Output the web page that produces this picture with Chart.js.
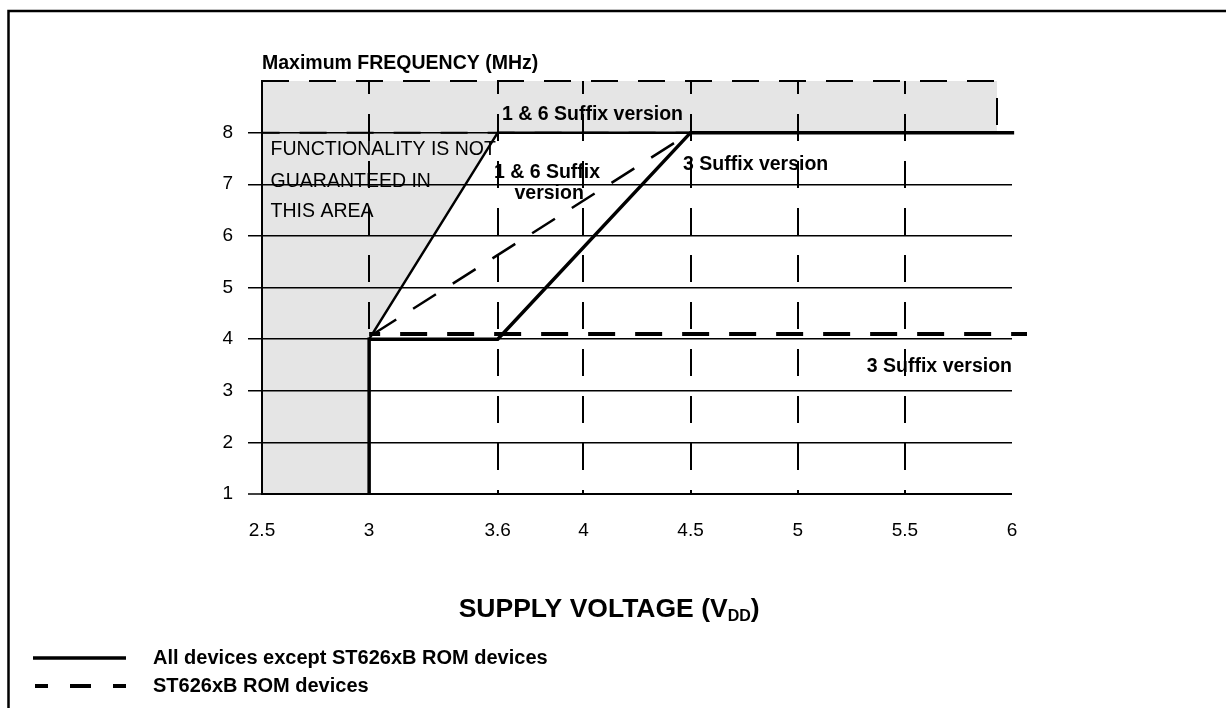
<!DOCTYPE html>
<html>
<head>
<meta charset="utf-8">
<script src="https://cdn.jsdelivr.net/npm/chart.js@4.4.1/dist/chart.umd.min.js"></script>
<style>
  body { margin: 0; background: #fff; }
  #grafico { display: block; }
</style>
</head>
<body>
<canvas id="grafico" width="1226" height="708"></canvas>
<script>
// Axis ticks
const voltageTicks = [2.5, 3, 3.6, 4, 4.5, 5, 5.5, 6];
const freqTicks = [1, 2, 3, 4, 5, 6, 7, 8];

// Area where functionality is not guaranteed (grey)
const topBandVolt = [2.5, 5.93];
const topBandFreq = [9, 9];
const leftAreaVolt = [2.5, 3, 3, 3.6];
const leftAreaFreq = [1, 1, 4, 8];
const bandEdgeVolt = [2.5, 5.93, 5.93, 2.5];
const bandEdgeFreq = [9, 9, 8, 8];

// All devices except ST626xB ROM devices (solid)
const suffix3Volt = [3, 3, 3.6, 4.5, 6.01];
const suffix3Freq = [1, 4, 4, 8, 8];
const suffix16Volt = [3, 3.6, 4.5];
const suffix16Freq = [4, 8, 8];

// ST626xB ROM devices (dashed)
const romSlantVolt = [3.02, 4.5];
const romSlantFreq = [4.1, 8];
const romFlatVolt = [3, 6.07];
const romFlatFreq = [4.1, 4.1];

// Texts inside the plot
const notes = [
  { text: 'Maximum FREQUENCY (MHz)', x: 2.5, y: 9.23, bold: true, align: 'left' },
  { text: '1 & 6 Suffix version', x: 3.62, y: 8.25, bold: true, align: 'left' },
  { text: 'FUNCTIONALITY IS NOT', x: 2.54, y: 7.57, bold: false, align: 'left' },
  { text: 'GUARANTEED IN', x: 2.54, y: 6.94, bold: false, align: 'left' },
  { text: 'THIS AREA', x: 2.54, y: 6.375, bold: false, align: 'left' },
  { text: '1 & 6 Suffix', x: 3.83, y: 7.125, bold: true, align: 'center' },
  { text: 'version', x: 3.84, y: 6.71, bold: true, align: 'center' },
  { text: '3 Suffix version', x: 4.465, y: 7.285, bold: true, align: 'left' },
  { text: '3 Suffix version', x: 6.0, y: 3.36, bold: true, align: 'right' }
];

const legendItems = ['All devices except ST626xB ROM devices', 'ST626xB ROM devices'];

const FONT = '"Liberation Sans", Arial, Helvetica, sans-serif';
const GREY = '#e5e5e5';

function pts(xs, ys) {
  return xs.map((x, i) => ({ x: x, y: ys[i] }));
}

function lineSet(xs, ys, width, dash, offset) {
  return {
    data: pts(xs, ys),
    borderColor: '#000',
    borderWidth: width,
    borderDash: dash || [],
    borderDashOffset: offset || 0,
    borderCapStyle: 'butt',
    borderJoinStyle: 'miter',
    pointRadius: 0,
    tension: 0,
    fill: false,
    clip: false
  };
}

function areaSet(xs, ys) {
  return {
    data: pts(xs, ys),
    backgroundColor: GREY,
    borderWidth: 0,
    pointRadius: 0,
    tension: 0,
    fill: { value: 8 }
  };
}

// Texts, axis title, legend and frame
const extras = {
  id: 'extras',
  afterDraw(chart) {
    const ctx = chart.ctx;
    const sx = chart.scales.x;
    const sy = chart.scales.y;
    const area = chart.chartArea;
    ctx.save();
    ctx.fillStyle = '#000';
    ctx.textBaseline = 'alphabetic';

    notes.forEach(function(n) {
      ctx.font = (n.bold ? 'bold ' : '') + '19.5px ' + FONT;
      ctx.textAlign = n.align;
      ctx.fillText(n.text, sx.getPixelForValue(n.x), sy.getPixelForValue(n.y));
    });

    // x axis title with subscript
    const main = 'SUPPLY VOLTAGE (V';
    const sub = 'DD';
    ctx.font = 'bold 26.5px ' + FONT;
    const w1 = ctx.measureText(main).width;
    const w3 = ctx.measureText(')').width;
    ctx.font = 'bold 16px ' + FONT;
    const w2 = ctx.measureText(sub).width;
    let tx = sx.getPixelForValue(4.12) - (w1 + w2 + w3) / 2;
    const ty = area.bottom + 123;
    ctx.textAlign = 'left';
    ctx.font = 'bold 26.5px ' + FONT;
    ctx.fillText(main, tx, ty);
    ctx.font = 'bold 16px ' + FONT;
    ctx.fillText(sub, tx + w1, ty + 4);
    ctx.font = 'bold 26.5px ' + FONT;
    ctx.fillText(')', tx + w1 + w2, ty);

    // legend
    ctx.strokeStyle = '#000';
    ctx.lineWidth = 3.5;
    ctx.beginPath();
    ctx.moveTo(33, 658);
    ctx.lineTo(126, 658);
    ctx.stroke();
    ctx.lineWidth = 4;
    ctx.setLineDash([21, 22]);
    ctx.lineDashOffset = 8;
    ctx.beginPath();
    ctx.moveTo(35, 686);
    ctx.lineTo(126, 686);
    ctx.stroke();
    ctx.setLineDash([]);
    ctx.font = 'bold 20px ' + FONT;
    ctx.textBaseline = 'middle';
    ctx.fillText(legendItems[0], 153, 658);
    ctx.fillText(legendItems[1], 153, 686);

    // frame
    ctx.lineWidth = 2.5;
    ctx.beginPath();
    ctx.moveTo(8.5, 708);
    ctx.lineTo(8.5, 11);
    ctx.lineTo(1226, 11);
    ctx.stroke();
    ctx.restore();
  }
};

var ctxGrafico = document.getElementById('grafico').getContext('2d');
var grafico = new Chart(ctxGrafico, {
  type: 'line',
  data: {
    datasets: [
      areaSet(topBandVolt, topBandFreq),
      areaSet(leftAreaVolt, leftAreaFreq),
      lineSet(bandEdgeVolt, bandEdgeFreq, 2, [27, 20], 0),
      lineSet(romSlantVolt, romSlantFreq, 2.5, [27, 20], 0),
      lineSet(romFlatVolt, romFlatFreq, 4, [27, 20], 16),
      lineSet(suffix16Volt, suffix16Freq, 2.5),
      lineSet(suffix3Volt, suffix3Freq, 3.5)
    ]
  },
  options: {
    responsive: false,
    animation: false,
    layout: { padding: { left: 9, right: 214, top: 81, bottom: 0 } },
    plugins: {
      legend: { display: false },
      tooltip: { enabled: false },
      filler: { drawTime: 'beforeDraw' }
    },
    scales: {
      x: {
        type: 'linear',
        min: 2.5,
        max: 6,
        afterBuildTicks: function(scale) {
          scale.ticks = voltageTicks.map(v => ({ value: v }));
        },
        afterFit: function(scale) { scale.height = 214; },
        grid: {
          color: c => (c.tick && (c.tick.value === 2.5 || c.tick.value === 6)) ? 'rgba(0,0,0,0)' : '#000',
          lineWidth: 2,
          drawTicks: false
        },
        border: { display: false, dash: [27, 20], dashOffset: 14 },
        ticks: {
          padding: 25,
          color: '#000',
          font: { family: FONT, size: 19 },
          callback: v => String(v)
        }
      },
      y: {
        type: 'linear',
        min: 1,
        max: 9,
        afterBuildTicks: function(scale) {
          scale.ticks = freqTicks.map(v => ({ value: v }));
        },
        afterFit: function(scale) { scale.width = 253; },
        grid: {
          color: '#000',
          lineWidth: c => (c.tick && c.tick.value === 1) ? 2 : 1.5,
          tickLength: 14,
          tickColor: '#000',
          tickWidth: 1.5
        },
        border: { display: true, color: '#000', width: 2 },
        ticks: {
          padding: 15,
          color: '#000',
          font: { family: FONT, size: 19 },
          callback: v => String(v)
        }
      }
    }
  },
  plugins: [extras]
});
</script>
</body>
</html>
